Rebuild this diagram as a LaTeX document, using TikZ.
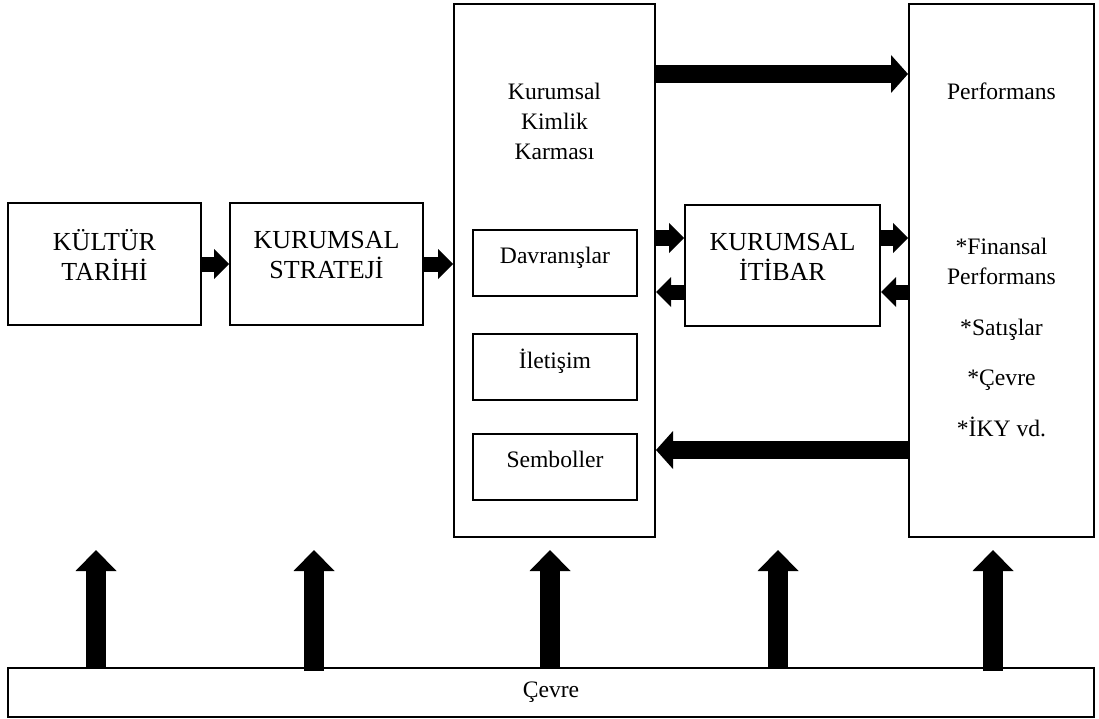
\documentclass[tikz,border=0pt]{standalone}
\usepackage{fontspec}
\setmainfont{Liberation Serif}
\usetikzlibrary{arrows.meta, positioning}

\newcommand{\capsfont}{\fontsize{26pt}{30pt}\selectfont}
\newcommand{\bodyfont}{\fontsize{23.6pt}{30pt}\selectfont}

\tikzstyle{capsbox} = [draw, line width=2pt, fill=white, rectangle,
    minimum width=193pt, minimum height=121pt, align=center, font=\capsfont, text depth=18pt]
\tikzstyle{colbox} = [draw, line width=2pt, fill=white, rectangle,
    minimum width=201pt, minimum height=533pt]
\tikzstyle{subbox} = [draw, line width=2pt, rectangle,
    minimum width=164pt, minimum height=66pt, font=\bodyfont, text depth=16pt]
\tikzstyle{bodytext} = [align=center, font=\bodyfont, inner sep=0pt]
\tikzstyle{smallarr} = [line width=15pt, -{Triangle[width=30pt,length=15pt,line width=0pt]}]
\tikzstyle{longarr} = [line width=18pt, -{Triangle[width=38pt,length=17pt,line width=0pt]}]
\tikzstyle{uparr} = [line width=20pt, -{Triangle[width=41pt,length=21pt,line width=0pt]}]

\begin{document}
\begin{tikzpicture}[x=1pt, y=-1pt]
    \useasboundingbox (0,0) rectangle (1099,719);

    \node [capsbox] (ktr) at (104.5,264) {KÜLTÜR\\TARİHİ};
    \node [capsbox, right of=ktr, node distance=222pt] (ks) {KURUMSAL\\STRATEJİ};

    \node [colbox] (kkk) at (554.5,270.5) {};
    \node [bodytext, below=80pt of kkk.north] (kkkt) {Kurumsal\\Kimlik\\Karması};
    \node [subbox] (dav) at (555,263) {Davranışlar};
    \node [subbox, below of=dav, node distance=104pt] (ilt) {İletişim};
    \node [subbox, below of=ilt, node distance=100pt] (sem) {Semboller};

    \node [capsbox, minimum width=195pt] (kit) at (782.5,265.5) {KURUMSAL\\İTİBAR};

    \node [colbox, minimum width=185pt] (perf) at (1001.5,270.5) {};
    \node [bodytext, below=80pt of perf.north] (perft) {Performans};
    \node [bodytext, below=235pt of perf.north] (perfl)
        {*Finansal\\Performans\\[21pt]*Satışlar\\[20pt]*Çevre\\[21pt]*İKY vd.};

    \node [draw, line width=2pt, rectangle, minimum width=1086pt, minimum height=49pt,
        font=\bodyfont] (cevre) at (551,692.5) {Çevre};

    % rows of the horizontal arrows
    \coordinate (rowtop) at (0,74);
    \coordinate (rowhi) at (0,238);
    \coordinate (rowlo) at (0,292);
    \coordinate (rowbot) at (0,450);

    \draw [smallarr] (ktr.east) -- (ks.west);
    \draw [smallarr] (ks.east) -- (ks.east -| kkk.west);
    \draw [longarr] (kkk.east |- rowtop) -- (perf.west |- rowtop);
    \draw [smallarr] (kkk.east |- rowhi) -- (kit.west |- rowhi);
    \draw [smallarr] (kit.east |- rowhi) -- (perf.west |- rowhi);
    \draw [smallarr] (kit.west |- rowlo) -- (kkk.east |- rowlo);
    \draw [smallarr] (perf.west |- rowlo) -- (kit.east |- rowlo);
    \draw [longarr] (perf.west |- rowbot) -- (kkk.east |- rowbot);

    % environment arrows
    \coordinate (up1) at (96,550);
    \coordinate (up2) at (314,550);
    \coordinate (up3) at (550,550);
    \coordinate (up4) at (778,550);
    \coordinate (up5) at (993,550);
    \draw [uparr] (cevre.north -| up1) -- (up1);
    \draw [uparr] ([yshift=-4pt]cevre.north -| up2) -- (up2);
    \draw [uparr] (cevre.north -| up3) -- (up3);
    \draw [uparr] (cevre.north -| up4) -- (up4);
    \draw [uparr] ([yshift=-4pt]cevre.north -| up5) -- (up5);
\end{tikzpicture}
\end{document}
